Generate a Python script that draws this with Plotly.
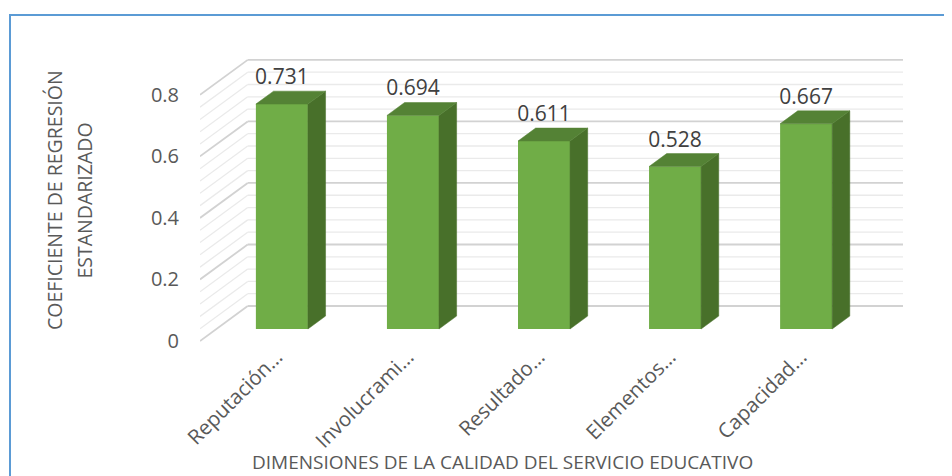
import plotly.graph_objects as go

# ---------------- data ----------------
categories = ["Reputación…", "Involucrami…", "Resultado…", "Elementos…", "Capacidad…"]
values = [0.731, 0.694, 0.611, 0.528, 0.667]
value_labels = ["0.731", "0.694", "0.611", "0.528", "0.667"]
y_tick_vals = [0, 0.2, 0.4, 0.6, 0.8]
y_tick_text = ["0", "0.2", "0.4", "0.6", "0.8"]
minor_step = 0.04
x_title = "DIMENSIONES DE LA CALIDAD DEL SERVICIO EDUCATIVO"
y_title_lines = ["COEFICIENTE DE REGRESIÓN", "ESTANDARIZADO"]

# ---------------- layout constants ----------------
W, H = 952, 476
OFF = 8  # page body margin
# target plot area in window pixels: x 200..903, y 45..350
PX0, PX1, PY0, PY1 = 200, 903, 45, 350
L = PX0 - OFF
R = W - (PX1 - OFF)
T = PY0 - OFF
B = H - (PY1 - OFF)
X_RANGE = [-0.5, 4.864]
Y_RANGE = [-0.02925, 0.962]
FONT = "Open Sans"

# oblique 3-D depth (in axis units)
DX, DY = 0.364, 0.1137
bar_front = 0.343
bar_depth = 0.37
bar_width = 0.397
fx, fy = bar_front * DX, bar_front * DY
bdx, bdy = bar_depth * DX, bar_depth * DY
label_off = 0.082
tick_shift = -0.04

FRONT = "#70AD47"
SIDE = "#48702A"
TOP = "#548235"

n = len(values)
floor_left = -0.5
floor_right = n - 0.5

pw = PX1 - PX0
ph = PY1 - PY0


def px_x(px):
    return (px - PX0) / pw


def px_y(py):
    return (PY1 - py) / ph


fig = go.Figure()

# ---------------- gridlines (back wall + side diagonals) ----------------
shapes = []
n_minor = int(round(max(y_tick_vals) / minor_step))
for k in range(n_minor + 1):
    v = k * minor_step
    major = any(abs(v - t) < 1e-9 for t in y_tick_vals)
    line = dict(color="#D2D2D2" if major else "#EAEAEA", width=1.8 if major else 1.3)
    shapes.append(dict(type="line", xref="x", yref="y", layer="below",
                       x0=floor_left, y0=v, x1=floor_left + DX, y1=v + DY, line=line))
    shapes.append(dict(type="line", xref="x", yref="y", layer="below",
                       x0=floor_left + DX, y0=v + DY, x1=floor_right + DX, y1=v + DY, line=line))

# outer border
shapes.append(dict(type="rect", xref="paper", yref="paper",
                   x0=px_x(10), y0=px_y(490), x1=px_x(970), y1=px_y(15),
                   line=dict(color="#5B9BD5", width=2), fillcolor="rgba(0,0,0,0)"))

# ---------------- bars ----------------
xc = [i + fx for i in range(n)]
fig.add_trace(go.Bar(x=xc, y=values, base=[fy] * n, width=bar_width,
                     marker=dict(color=FRONT, line=dict(width=0)),
                     hoverinfo="skip", showlegend=False))

for i, v in enumerate(values):
    xl = xc[i] - bar_width / 2
    xr = xc[i] + bar_width / 2
    yb = fy
    yt = fy + v
    # side face
    fig.add_trace(go.Scatter(
        x=[xr, xr, xr + bdx, xr + bdx, xr],
        y=[yb, yt, yt + bdy, yb + bdy, yb],
        mode="lines", fill="toself", fillcolor=SIDE,
        line=dict(width=0.5, color=SIDE), hoverinfo="skip", showlegend=False))
    # top face
    fig.add_trace(go.Scatter(
        x=[xl, xr, xr + bdx, xl + bdx, xl],
        y=[yt, yt, yt + bdy, yt + bdy, yt],
        mode="lines", fill="toself", fillcolor=TOP,
        line=dict(width=0.5, color=TOP), hoverinfo="skip", showlegend=False))

# data labels
fig.add_trace(go.Scatter(
    x=xc, y=[fy + v + label_off for v in values], text=value_labels,
    mode="text", textposition="middle center",
    textfont=dict(family=FONT, size=21, color="#404040"),
    hoverinfo="skip", showlegend=False, cliponaxis=False))

# ---------------- annotations (titles) ----------------
annotations = [
    dict(text=x_title, xref="paper", yref="paper", x=px_x(502), y=px_y(462),
         xanchor="center", yanchor="middle", showarrow=False,
         font=dict(family=FONT, size=19, color="#595959")),
    dict(text=y_title_lines[0], xref="paper", yref="paper", x=px_x(54.5), y=px_y(200.5),
         xanchor="center", yanchor="middle", showarrow=False, textangle=-90,
         font=dict(family=FONT, size=19.5, color="#595959")),
    dict(text=y_title_lines[1], xref="paper", yref="paper", x=px_x(84), y=px_y(200.5),
         xanchor="center", yanchor="middle", showarrow=False, textangle=-90,
         font=dict(family=FONT, size=19.5, color="#595959")),
]

fig.update_layout(
    width=W, height=H,
    margin=dict(l=L, r=R, t=T, b=B, autoexpand=False),
    paper_bgcolor="white", plot_bgcolor="white",
    shapes=shapes, annotations=annotations,
    showlegend=False, barmode="overlay",
    xaxis=dict(range=X_RANGE, tickmode="array", tickvals=[x + tick_shift for x in xc],
               ticktext=categories,
               tickangle=-45, showgrid=False, zeroline=False, showline=False, ticks="",
               ticklabelstandoff=-10,
               tickfont=dict(family=FONT, size=20.5, color="#595959"), fixedrange=True),
    yaxis=dict(range=Y_RANGE, tickmode="array", tickvals=y_tick_vals, ticktext=y_tick_text,
               showgrid=False, zeroline=False, showline=False, ticks="",
               ticklabelstandoff=20,
               tickfont=dict(family=FONT, size=20, color="#595959"), fixedrange=True),
)

fig.write_html("out.html")
